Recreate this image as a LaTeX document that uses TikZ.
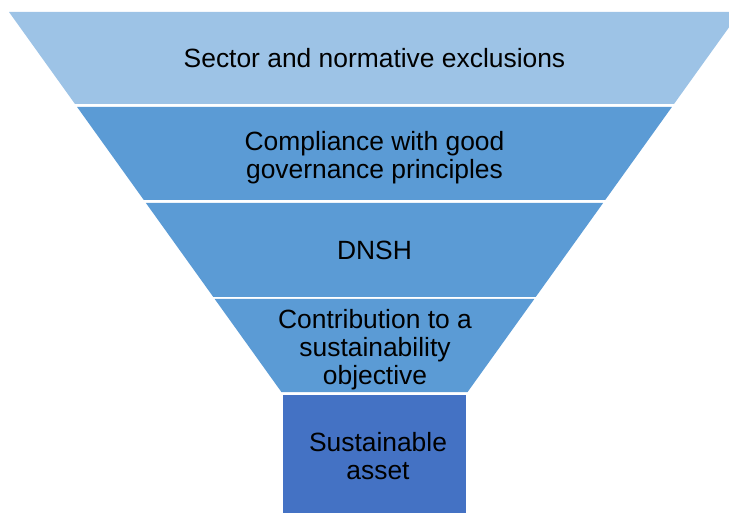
\documentclass[tikz,border=0pt]{standalone}
\usepackage{fontspec}
\setmainfont{Liberation Sans}
\definecolor{bandlight}{HTML}{9DC3E6}
\definecolor{bandmid}{HTML}{5B9BD5}
\definecolor{boxdark}{HTML}{4472C4}
\begin{document}
\begin{tikzpicture}[x=1pt,y=-1pt,
  lbl/.style={font=\fontsize{26.4}{28}\selectfont, align=center, text=black, inner sep=0pt}]
\useasboundingbox (0,0) rectangle (729,513);
\clip (0,0) rectangle (729,513);
% funnel bands
\fill[bandlight] (9,12) -- (740,12) -- (674,104) -- (75,104) -- cycle;
\fill[bandmid] (77.1,107) -- (671.9,107) -- (605.2,200) -- (143.8,200) -- cycle;
\fill[bandmid] (145.9,203) -- (603.1,203) -- (535.7,297) -- (213.3,297) -- cycle;
\fill[bandmid] (214.7,299) -- (534.3,299) -- (467.6,392) -- (281.4,392) -- cycle;
\fill[boxdark] (283,395) rectangle (466,513);
% labels
\node[lbl] (t1) at (374.5,58.5) {Sector and normative exclusions};
\node[lbl] (t2) at (374.5,158) {Compliance with good\\governance principles};
\node[lbl] (t3) at (374.5,250.5) {DNSH};
\node[lbl] (t4) at (375,349.5) {Contribution to a\\sustainability\\objective};
\node[lbl] (t5) at (378,456) {Sustainable\\asset};
\end{tikzpicture}
\end{document}
